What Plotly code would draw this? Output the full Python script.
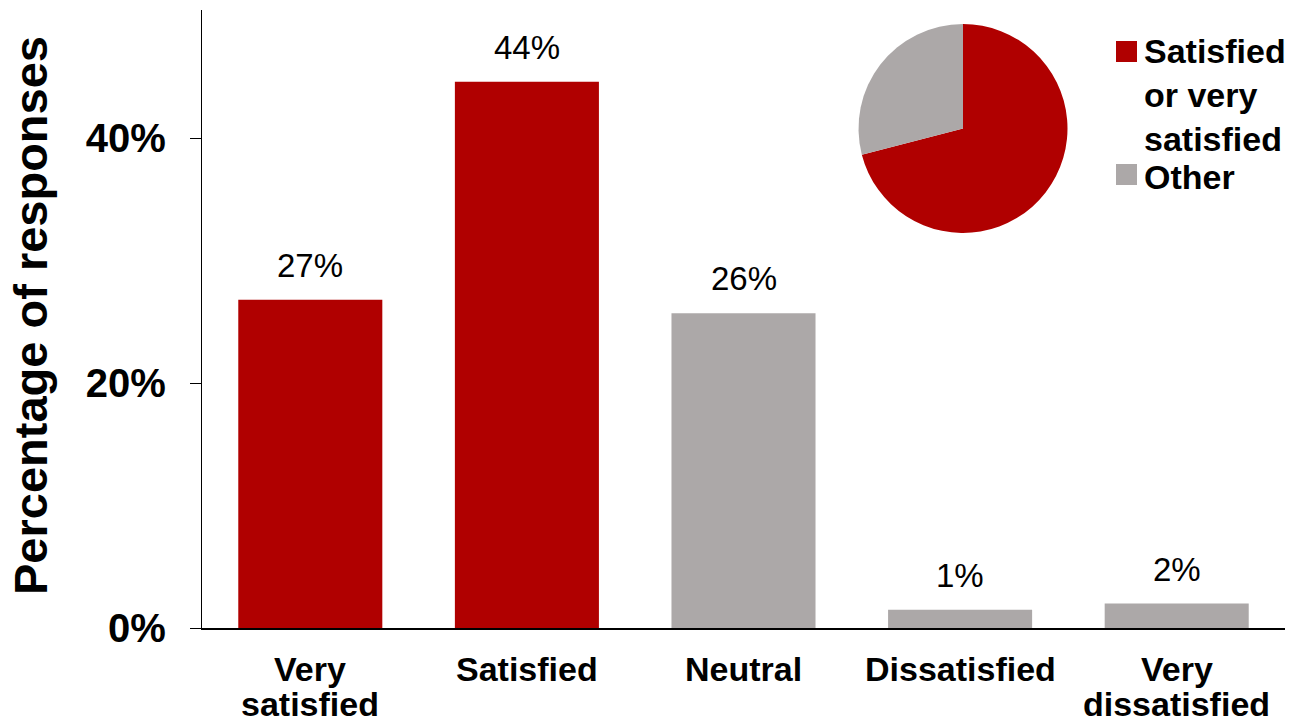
import plotly.graph_objects as go

# ---- data ----
categories = ["Very<br>satisfied", "Satisfied", "Neutral", "Dissatisfied", "Very<br>dissatisfied"]
values = [26.8, 44.6, 25.7, 1.5, 2.0]
value_labels = ["27%", "44%", "26%", "1%", "2%"]
bar_groups = ["sat", "sat", "other", "other", "other"]
pie_labels = ["Satisfied<br>or very<br>satisfied", "Other"]
pie_values = [sum(v for v, g in zip(values, bar_groups) if g == "sat"),
              sum(v for v, g in zip(values, bar_groups) if g == "other")]
y_tick_vals = [0, 20, 40]
y_tick_text = ["0%", "20%", "40%"]

RED = "#B00000"
GRAY = "#ACA8A8"
color_map = {"sat": RED, "other": GRAY}
FONT = "Arial, Liberation Sans, sans-serif"

W, H = 1289, 725
ML, MR, MT, MB = 202, 4, 10, 97
PW = W - ML - MR
PH = H - MT - MB


def px_x(px):
    return (px - ML) / PW


def px_y(py):
    return (H - MB - py) / PH


fig = go.Figure()
fig.add_trace(go.Bar(
    x=categories, y=values,
    marker=dict(color=[color_map[g] for g in bar_groups], line=dict(width=0)),
    showlegend=False, hoverinfo="skip",
))

fig.add_trace(go.Pie(
    labels=pie_labels, values=pie_values,
    marker=dict(colors=[RED, GRAY], line=dict(width=0)),
    sort=False, direction="clockwise", rotation=0,
    textinfo="none", showlegend=False, hoverinfo="skip",
    domain=dict(x=[px_x(858), px_x(1068)], y=[px_y(233), px_y(24)]),
))

annotations = []
# value labels above bars
for c, v, t in zip(categories, values, value_labels):
    annotations.append(dict(
        x=c, y=v, xref="x", yref="y", text=t, showarrow=False,
        yanchor="bottom", xanchor="center", yshift=14,
        font=dict(family=FONT, size=33, color="black"),
    ))
# category labels (two rows for tight line spacing)
for c in categories:
    parts = c.split("<br>")
    for i, p in enumerate(parts):
        annotations.append(dict(
            x=c, y=0, xref="x", yref="y", text=p, showarrow=False,
            yanchor="top", xanchor="center", yshift=-20 - 35 * i,
            font=dict(family=FONT, size=34, color="black", weight="bold"),
        ))
# y axis title
annotations.append(dict(
    x=0, y=0.5, xref="paper", yref="paper", text="Percentage of responses",
    showarrow=False, textangle=-90, xanchor="center", yanchor="middle",
    xshift=30 - ML, yshift=3,
    font=dict(family=FONT, size=47, color="black", weight="bold"),
))
# legend
legend_centers = [95, 177]
legend_sq_tops = [41, 164]
shapes = []
for lab, col, cy, sq in zip(pie_labels, [RED, GRAY], legend_centers, legend_sq_tops):
    shapes.append(dict(
        type="rect", xref="paper", yref="paper",
        x0=px_x(1116), x1=px_x(1137), y0=px_y(sq + 21), y1=px_y(sq),
        fillcolor=col, line=dict(width=0),
    ))
    annotations.append(dict(
        x=px_x(1142), y=px_y(cy), xref="paper", yref="paper", text=lab,
        showarrow=False, xanchor="left", yanchor="middle", align="left",
        font=dict(family=FONT, size=34, color="black", weight="bold"),
    ))

fig.update_layout(
    width=W, height=H,
    margin=dict(l=ML, r=MR, t=MT, b=MB),
    paper_bgcolor="white", plot_bgcolor="white",
    bargap=0.335,
    xaxis=dict(
        range=[-0.5, 4.5], showticklabels=False, ticks="",
        showline=True, linecolor="black", linewidth=1.5, showgrid=False,
        zeroline=False, automargin=False,
    ),
    yaxis=dict(
        range=[0, 50.45], tickvals=y_tick_vals, ticktext=y_tick_text,
        ticks="outside", ticklen=11, tickcolor="black", tickwidth=1.3,
        showline=True, linecolor="black", linewidth=1.3, showgrid=False,
        zeroline=False, automargin=False, ticklabelstandoff=16,
        tickfont=dict(family=FONT, size=40, color="black", weight="bold"),
    ),
    annotations=annotations,
    shapes=shapes,
)

fig.write_html(
    "out.html",
    config={"displayModeBar": False},
    post_script="document.body.style.margin='0';document.body.style.overflow='hidden';",
)
